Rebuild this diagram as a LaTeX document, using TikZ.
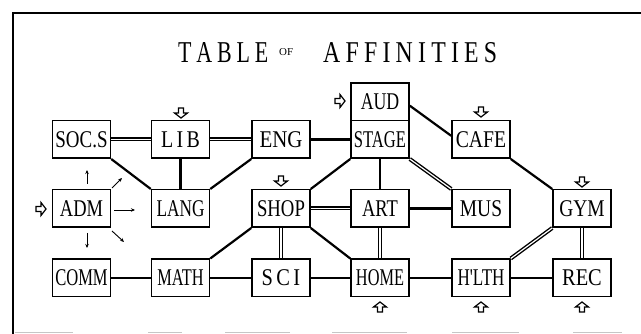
\documentclass[tikz,border=0pt]{standalone}
\usepackage{fontspec}
\usepackage{graphicx}
\usetikzlibrary{arrows.meta}
\newfontfamily\boxfont{Liberation Serif}
\newcommand{\lbl}[2]{\scalebox{#1}[1]{#2}}
\newcommand{\ls}{\kern0.22em}
\begin{document}
\begin{tikzpicture}[x=1pt,y=-1pt,
  box/.style={draw, line width=1.5pt, minimum width=58pt, minimum height=37.5pt,
    inner sep=0pt, font=\boxfont\fontsize{24}{26}\selectfont},
  single/.style={line width=2.2pt},
  dbl/.style={line width=1.4pt, double=white, double distance=1.2pt},
  thin arrow/.style={line width=0.9pt, -{Stealth[length=4pt,width=3.5pt]}},
  hollow/.pic={\draw[line width=1.2pt, line join=miter, fill=white]
    (0,0) -- (-5,-6.5) -- (-5,-2.5) -- (-10,-2.5) -- (-10,2.5) -- (-5,2.5) -- (-5,6.5) -- cycle;}]
\useasboundingbox (0,0) rectangle (641,334);
% frame
\draw[line width=1.6pt] (641,13) -- (13,13) -- (13,334);
\draw[line width=1pt, gray!45] (15,333) -- (73,333) (148,333) -- (182,333) (225,333) -- (290,333)
  (332,333) -- (407,333) (452,333) -- (519,333) (573,333) -- (622,333);
% title
\node[anchor=base west, inner sep=0pt] (tTABLE) at (178,63) {\resizebox{90pt}{20pt}{\boxfont T\ls A\ls B\ls L\ls E}};
\node[anchor=base west, inner sep=0pt] (tOF) at (279,56) {\resizebox{14pt}{7pt}{\boxfont OF}};
\node[anchor=base west, inner sep=0pt] (tAFF) at (323,63) {\resizebox{174pt}{20pt}{\boxfont A\ls F\ls F\ls I\ls N\ls I\ls T\ls I\ls E\ls S}};
% boxes
\node[box] (socs)  at (81.5,139.5) {\lbl{0.79}{SOC.S}};
\node[box] (lib)   at (180.5,139.5) {\lbl{0.83}{L\,I\,B}};
\node[box] (eng)   at (281,139.5) {\lbl{0.87}{ENG}};
\node[box] (stage) at (380,139.5) {\lbl{0.69}{STAGE}};
\node[box] (aud)   at (380,102) {\lbl{0.74}{AUD}};
\node[box] (cafe)  at (481,139.5) {\lbl{0.82}{CAFE}};
\node[box] (adm)   at (81.5,208.5) {\lbl{0.77}{ADM}};
\node[box] (lang)  at (180.5,208.5) {\lbl{0.72}{LANG}};
\node[box] (shop)  at (281,208.5) {\lbl{0.78}{SHOP}};
\node[box] (art)   at (380,208.5) {\lbl{0.77}{ART}};
\node[box] (mus)   at (481,208.5) {\lbl{0.81}{MUS}};
\node[box] (gym)   at (582,208.5) {\lbl{0.81}{GYM}};
\node[box] (comm)  at (81.5,278) {\lbl{0.69}{COMM}};
\node[box] (math)  at (180.5,278) {\lbl{0.68}{MATH}};
\node[box] (sci)   at (281,278) {\lbl{0.85}{S\,C\,I}};
\node[box] (home)  at (380,278) {\lbl{0.68}{HOME}};
\node[box] (hlth)  at (481,278) {\lbl{0.71}{H'LTH}};
\node[box] (rec)   at (582,278) {\lbl{0.85}{REC}};
% connectors
\draw[dbl] (socs) -- (lib);
\draw[dbl] (lib) -- (eng);
\draw[single] (eng) -- (stage);
\draw[single] (socs.south east) -- (lang.north west);
\draw[single] (lib) -- (lang);
\draw[single] (eng.south west) -- (lang.north east);
\draw[single] (aud.-7) -- (cafe.173);
\draw[single] (stage.south west) -- (shop.north east);
\draw[single] (stage) -- (art);
\draw[dbl] (stage.south east) -- (mus.north west);
\draw[single] (cafe.south east) -- (gym.north west);
\draw[dbl] (shop) -- (art);
\draw[single] (art) -- (mus);
\draw[single] (shop.south west) -- (math.north east);
\draw[dbl] (shop) -- (sci);
\draw[single] (shop.south east) -- (home.north west);
\draw[dbl] (art) -- (home);
\draw[dbl] (gym.south west) -- (hlth.north east);
\draw[dbl] (gym) -- (rec);
\draw[single] (comm) -- (math);
\draw[single] (math) -- (sci);
\draw[single] (sci) -- (home);
\draw[single] (home) -- (hlth);
\draw[single] (hlth) -- (rec);
% ADM thin arrows
\coordinate (u0) at (87,184); \coordinate (u1) at (87,170);
\coordinate (ur0) at (112,188); \coordinate (ur1) at (122,178);
\coordinate (r0) at (114,210); \coordinate (r1) at (135,210);
\coordinate (dr0) at (112,231); \coordinate (dr1) at (124,242);
\coordinate (d0) at (87,233); \coordinate (d1) at (87,248);
\draw[thin arrow] (u0) -- (u1);
\draw[thin arrow] (ur0) -- (ur1);
\draw[thin arrow] (r0) -- (r1);
\draw[thin arrow] (dr0) -- (dr1);
\draw[thin arrow] (d0) -- (d1);
% hollow entrance arrows
\pic[rotate=-90] at (181,118) {hollow};
\pic at (345,101) {hollow};
\pic[rotate=-90] at (481,117) {hollow};
\pic at (46,209) {hollow};
\pic[rotate=-90] at (281,186) {hollow};
\pic[rotate=-90] at (582,187) {hollow};
\pic[rotate=90] at (380,302) {hollow};
\pic[rotate=90] at (481,302) {hollow};
\pic[rotate=90] at (582,302) {hollow};
\end{tikzpicture}
\end{document}
